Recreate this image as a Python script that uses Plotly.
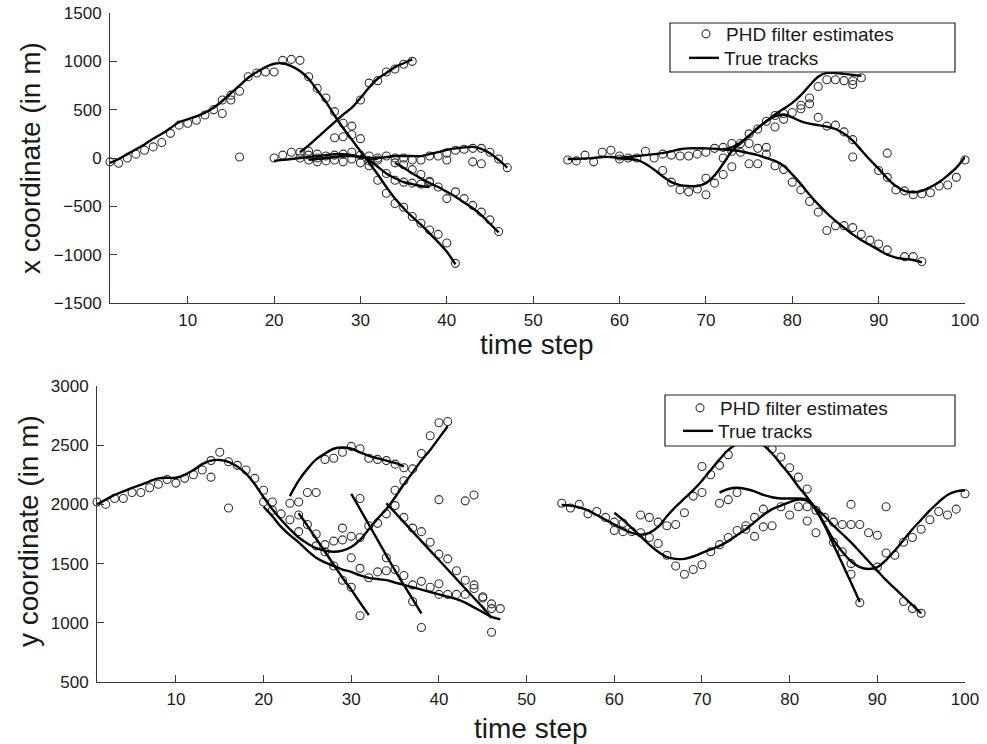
import plotly.graph_objects as go

# ---------------- data: true tracks (x coordinate, top panel) ----------------
tx1_t0, tx1 = 1, [-50, -10, 40, 90, 140, 200, 250, 310, 370, 400, 430, 470, 520, 590, 670, 750, 830, 890, 940, 975,
                  980, 950, 900, 820, 700, 580, 440, 310, 190, 70, -50, -170, -300, -420, -520, -610, -690, -780, -870, -970, -1100]
tx2_t0, tx2 = 23, [60, 130, 210, 290, 370, 450, 520, 620, 730, 820, 880, 940, 980, 1020]
tx3_t0, tx3 = 20, [-30, -20, -10, 0, 10, 20, 30, 40, 40, 30, 10, 0, 0, 10, 20, 20, 20, 20, 40, 60,
                   85, 100, 110, 115, 95, 50, -20, -100]
tx4_t0, tx4 = 24, [-20, -10, 0, 10, 20, 20, 10, 0, -10]
tx5_t0, tx5 = 30, [30, -20, -90, -160, -210, -250, -270, -290, -300]
tx6_t0, tx6 = 34, [-50, -100, -160, -210, -260, -300, -350, -400, -460, -520, -590, -680, -770]
tx7_t0, tx7 = 54, [-10, -10, -5, 0, 10, 10, 0, -10, -20, -60, -120, -190, -250, -280, -290, -290, -260, -180, -60, 70,
                   150, 230, 310, 380, 450, 510, 570, 650, 750, 840, 880, 880, 870, 860, 850]
tx8_t0, tx8 = 60, [0, 10, 20, 30, 40, 50, 70, 90, 100, 100, 100, 95, 90, 110, 160, 230, 310, 380, 430, 450,
                   420, 380, 355, 340, 325, 300, 250, 180, 80, -20, -110, -210, -290, -340, -355, -340, -300, -250, -180, -100, 10]
tx9_t0, tx9 = 72, [90, 80, 70, 50, 30, 0, -30, -80, -170, -270, -380, -480, -570, -650, -720, -790, -850, -900, -950, -1000,
                   -1030, -1045, -1055, -1080]

# ---------------- data: true tracks (y coordinate, bottom panel) ----------------
ty1_t0, ty1 = 1, [2000, 2040, 2080, 2110, 2140, 2165, 2195, 2220, 2225, 2225, 2250, 2290, 2340, 2370, 2375, 2360, 2320, 2260, 2170, 2060,
                  1960, 1870, 1790, 1720, 1670, 1630, 1610, 1600, 1610, 1640, 1700, 1790, 1880, 1960, 2060, 2170, 2270, 2370, 2460, 2560, 2660]
ty2_t0, ty2 = 23, [2070, 2200, 2300, 2380, 2430, 2470, 2480, 2470, 2440, 2410, 2390, 2370, 2350, 2320]
ty3_t0, ty3 = 20, [1980, 1900, 1810, 1740, 1680, 1610, 1550, 1510, 1480, 1450, 1430, 1400, 1380, 1370, 1360, 1340, 1320, 1300, 1280, 1260,
                   1240, 1220, 1200, 1170, 1130, 1090, 1050, 1030]
ty4_t0, ty4 = 24, [1925, 1820, 1710, 1600, 1490, 1380, 1280, 1170, 1065]
ty5_t0, ty5 = 30, [2090, 1960, 1830, 1700, 1570, 1440, 1320, 1200, 1080]
ty6_t0, ty6 = 34, [2010, 1930, 1850, 1770, 1690, 1610, 1530, 1450, 1370, 1290, 1210, 1130, 1040]
ty7_t0, ty7 = 54, [1995, 1990, 1975, 1950, 1910, 1870, 1830, 1790, 1760, 1745, 1760, 1810, 1900, 1980, 2050, 2120, 2200, 2290, 2380, 2460,
                   2510, 2530, 2530, 2500, 2430, 2340, 2250, 2150, 2060, 1950, 1820, 1660, 1500, 1340, 1175]
ty8_t0, ty8 = 60, [1930, 1870, 1800, 1730, 1660, 1600, 1555, 1540, 1540, 1560, 1590, 1620, 1650, 1690, 1740, 1790, 1850, 1910, 1960, 1990,
                   2020, 2040, 2030, 1960, 1830, 1700, 1600, 1520, 1470, 1455, 1470, 1530, 1610, 1700, 1790, 1870, 1950, 2020, 2080, 2110, 2120]
ty9_t0, ty9 = 72, [2100, 2130, 2140, 2130, 2110, 2080, 2060, 2050, 2050, 2050, 2040, 1970, 1900, 1820, 1750, 1680, 1600, 1520, 1440, 1360,
                   1290, 1220, 1150, 1080]

# ---------------- data: PHD filter estimates ----------------
est_top_t = [1, 2, 3, 4, 5, 6, 7, 8, 9, 10, 11, 12, 13, 14, 14, 15, 15, 16, 16, 17, 18, 19, 20, 20, 21, 21, 22, 22, 23, 23, 23,
             24, 24, 24, 24, 25, 25, 25, 25, 26, 26, 26, 27, 27, 27, 27, 28, 28, 28, 28, 29, 29, 29, 29, 30, 30, 30, 30,
             31, 31, 31, 31, 32, 32, 32, 32, 33, 33, 33, 33, 34, 34, 34, 34, 34, 35, 35, 35, 35, 35, 36, 36, 36, 36, 36,
             37, 37, 37, 37, 38, 38, 38, 38, 39, 39, 39, 40, 40, 40, 40, 41, 41, 41, 42, 42, 43, 43, 43, 44, 44, 44, 45, 45, 46, 46, 47,
             54, 55, 56, 57, 58, 59, 60, 60, 61, 62, 63, 64, 65, 65, 66, 66, 67, 67, 68, 68, 69, 69, 70, 70, 70, 71, 71,
             72, 72, 72, 73, 73, 73, 74, 74, 75, 75, 75, 76, 76, 76, 77, 77, 77, 78, 78, 78, 79, 79, 79, 80, 80,
             81, 81, 81, 82, 82, 82, 83, 83, 83, 84, 84, 84, 85, 85, 85, 86, 86, 86, 87, 87, 87, 87, 87, 88, 88, 89,
             90, 90, 91, 91, 91, 92, 93, 93, 94, 94, 95, 95, 96, 97, 98, 99, 100]
est_top_v = [-40, -55, 0, 40, 80, 115, 160, 255, 340, 360, 390, 445, 500, 600, 460, 600, 650, 690, 10, 840, 880, 890, 890, 0, 1010, 30, 1020, 60, 1010, 60, 0,
             840, 30, -20, 70, 720, 0, -40, 40, 620, 20, -30, 480, 210, 30, -20, 360, 220, 40, -40, 240, 330, 60, -10, 600, 200, 30, -50,
             775, 20, -30, -80, 800, -230, -20, 0, 890, -365, 20, -160, 920, -470, 0, -230, -50, 970, -510, 0, -250, -70, 1000, -605, -20, -260, -120,
             -675, -20, -270, -170, -745, 20, -250, -240, -790, 20, -300, -880, 50, -20, -420, -1090, 80, -350, 90, -420, 100, -40, -490, 100, -60, -560, 60, -640, -10, -760, -100,
             -20, -30, 30, -40, 60, 80, 20, -10, 0, 0, 70, 0, 40, -130, 30, -250, 20, -330, 20, -350, 40, -320, 60, -380, -210, 100, -260,
             110, 0, -170, 70, -90, 150, 150, 60, 150, -60, 250, 100, -60, 300, 110, 380, 40, 440, 320, -80, 400, -120, 460, 470, -250,
             545, 510, -330, 620, 560, -450, 740, 420, -560, 810, 330, -750, 810, 340, -700, 800, 270, -700, 760, 800, 190, 10, -720, 830, -790, -850,
             -130, -890, -200, 50, -950, -330, -340, -1020, -380, -1020, -370, -1070, -360, -290, -280, -200, -20]

est_bot_t = [1, 2, 3, 4, 5, 6, 7, 8, 9, 10, 11, 12, 13, 14, 14, 15, 16, 16, 17, 18, 19, 20, 20, 21, 21, 22, 23, 23,
             24, 24, 24, 25, 25, 26, 26, 26, 27, 27, 27, 28, 28, 28, 29, 29, 29, 29, 30, 30, 30, 30,
             31, 31, 31, 31, 31, 32, 32, 32, 33, 33, 33, 34, 34, 34, 34, 35, 35, 35, 35, 36, 36, 36, 36,
             37, 37, 37, 37, 38, 38, 38, 38, 39, 39, 39, 40, 40, 40, 40, 40, 41, 41, 41, 42, 42, 43, 43, 43, 44, 44, 44, 45, 45, 46, 46, 46, 47,
             54, 55, 56, 57, 58, 59, 60, 60, 61, 61, 62, 63, 63, 64, 64, 65, 65, 66, 66, 67, 67, 68, 68, 69, 69,
             70, 70, 70, 71, 71, 72, 72, 72, 73, 73, 73, 74, 74, 75, 75, 76, 76, 77, 77, 78, 78, 79, 79, 80, 80, 81, 81,
             82, 82, 82, 83, 83, 84, 85, 85, 86, 86, 87, 87, 87, 87, 88, 88, 89, 90, 90, 91, 91, 92, 93, 93, 94, 94, 95, 95,
             96, 97, 98, 99, 100]
est_bot_v = [2020, 2000, 2050, 2050, 2100, 2100, 2140, 2170, 2210, 2180, 2220, 2250, 2290, 2370, 2230, 2440, 2360, 1970, 2330, 2290, 2220, 2120, 2020, 2020, 1950, 1920, 2010, 1870,
             2020, 1910, 1770, 2100, 1830, 2100, 1750, 1650, 2380, 1660, 1600, 2390, 1690, 1480, 2440, 1800, 1700, 1360, 2490, 1730, 1550, 1300,
             2470, 2050, 1720, 1460, 1060, 2390, 1820, 1380, 2380, 1840, 1430, 2370, 1920, 1550, 1440, 2340, 2120, 1990, 1450, 2310, 2200, 1890, 1400,
             2300, 1800, 1320, 1180, 2430, 1770, 1350, 960, 2580, 1680, 1300, 2690, 2040, 1580, 1330, 1240, 2700, 1540, 1240, 1440, 1240, 2030, 1360, 1240, 2080, 1290, 1320, 1210, 1220, 1120, 1160, 920, 1120,
             2010, 1970, 2000, 1920, 1940, 1890, 1850, 1780, 1840, 1770, 1770, 1910, 1760, 1890, 1720, 1850, 1670, 1820, 1570, 1830, 1480, 1930, 1410, 2070, 1450,
             2320, 2100, 1490, 2250, 1600, 2330, 2010, 1660, 2420, 2040, 1720, 2100, 1780, 1820, 1790, 1890, 1730, 1960, 1810, 2470, 1820, 2400, 1980, 2310, 1910, 2230, 1980,
             2130, 1980, 1860, 1950, 1760, 1890, 1850, 1680, 1830, 1600, 2000, 1830, 1500, 1410, 1830, 1170, 1760, 1740, 1470, 1980, 1590, 1570, 1680, 1180, 1720, 1120, 1790, 1080,
             1870, 1940, 1910, 1960, 2090]

x_tracks = [(tx1_t0, tx1), (tx2_t0, tx2), (tx3_t0, tx3), (tx4_t0, tx4), (tx5_t0, tx5),
            (tx6_t0, tx6), (tx7_t0, tx7), (tx8_t0, tx8), (tx9_t0, tx9)]
y_tracks = [(ty1_t0, ty1), (ty2_t0, ty2), (ty3_t0, ty3), (ty4_t0, ty4), (ty5_t0, ty5),
            (ty6_t0, ty6), (ty7_t0, ty7), (ty8_t0, ty8), (ty9_t0, ty9)]

time_ticks = [10, 20, 30, 40, 50, 60, 70, 80, 90, 100]
x_ticks = [-1500, -1000, -500, 0, 500, 1000, 1500]
y_ticks = [500, 1000, 1500, 2000, 2500, 3000]

# ---------------- figure ----------------
W, H = 987, 744
FONT = "Liberation Sans, Arial, Helvetica, sans-serif"
AX = "#3a3a3a"
fig = go.Figure()

marker = dict(symbol="circle-open", size=8, color="#333333", line=dict(width=1.1, color="#333333"))
line_style = dict(color="black", width=2.4, shape="spline", smoothing=0.9)

panels = [
    ("x", "y", "legend", "legend2", est_top_t, est_top_v, x_tracks),
    ("x2", "y2", "legend3", "legend4", est_bot_t, est_bot_v, y_tracks),
]
for xa, ya, lg_e, lg_t, et, ev, tracks in panels:
    fig.add_trace(go.Scatter(x=et, y=ev, mode="markers", marker=marker, name="PHD filter estimates",
                             xaxis=xa, yaxis=ya, legend=lg_e, cliponaxis=False, hoverinfo="skip"))
    for i, (t0, vals) in enumerate(tracks):
        fig.add_trace(go.Scatter(x=list(range(t0, t0 + len(vals))), y=vals, mode="lines", line=line_style,
                                 name="True tracks", showlegend=(i == 0), legendgroup=f"g_{lg_t}",
                                 xaxis=xa, yaxis=ya, legend=lg_t, hoverinfo="skip"))

def px_x(p):
    return p / W

def px_y(p):
    return 1 - p / H

axis_common = dict(showline=True, linecolor=AX, linewidth=1, ticks="inside", ticklen=7, tickwidth=1,
                   tickcolor=AX, showgrid=False, zeroline=False, mirror=False, automargin=False,
                   tickfont=dict(family=FONT, size=17, color="#1a1a1a"))

legend_font = dict(family=FONT, size=19, color="#1a1a1a")

def leg(xp, yp):
    return dict(x=px_x(xp), y=px_y(yp), xanchor="left", yanchor="top", bgcolor="rgba(0,0,0,0)",
                borderwidth=0, font=legend_font, tracegroupgap=0)

fig.update_layout(
    template="none",
    width=W, height=H,
    margin=dict(l=0, r=0, t=0, b=0, pad=0, autoexpand=False),
    paper_bgcolor="white", plot_bgcolor="white",
    font=dict(family=FONT, color="#1a1a1a"),
    xaxis=dict(domain=[px_x(110), px_x(965)], range=[1, 100], tickvals=time_ticks, anchor="y",
               ticklabelstandoff=2, **axis_common),
    yaxis=dict(domain=[px_y(303), px_y(13)], range=[-1500, 1500], tickvals=x_ticks, anchor="x",
               ticklabelstandoff=4, **axis_common),
    xaxis2=dict(domain=[px_x(97), px_x(965)], range=[1, 100], tickvals=time_ticks, anchor="y2",
                ticklabelstandoff=2, **axis_common),
    yaxis2=dict(domain=[px_y(682), px_y(386)], range=[500, 3000], tickvals=y_ticks, anchor="x2",
                ticklabelstandoff=4, **axis_common),
    legend=leg(686, 15),
    legend2=leg(684, 39),
    legend3=leg(680, 389),
    legend4=leg(678, 412),
    showlegend=True,
)

# legend boxes (opaque, like the MATLAB legend)
for (x0, y0, x1, y1) in [(670, 23, 955, 72), (665, 395, 955, 446)]:
    fig.add_shape(type="rect", xref="paper", yref="paper", x0=px_x(x0), x1=px_x(x1), y0=px_y(y1), y1=px_y(y0),
                  fillcolor="white", line=dict(color="#222222", width=1.2), layer="above")

# axis titles
title_font = dict(family=FONT, size=28, color="#1a1a1a")
fig.add_annotation(text="x coordinate (in m)", xref="paper", yref="paper", x=px_x(30), y=px_y(158),
                   textangle=-90, showarrow=False, font=title_font, xanchor="center", yanchor="middle")
fig.add_annotation(text="y coordinate (in m)", xref="paper", yref="paper", x=px_x(28), y=px_y(531),
                   textangle=-90, showarrow=False, font=title_font, xanchor="center", yanchor="middle")
fig.add_annotation(text="time step", xref="paper", yref="paper", x=px_x(537), y=px_y(344),
                   showarrow=False, font=title_font, xanchor="center", yanchor="middle")
fig.add_annotation(text="time step", xref="paper", yref="paper", x=px_x(531), y=px_y(728),
                   showarrow=False, font=title_font, xanchor="center", yanchor="middle")

fig.write_html("out.html")
